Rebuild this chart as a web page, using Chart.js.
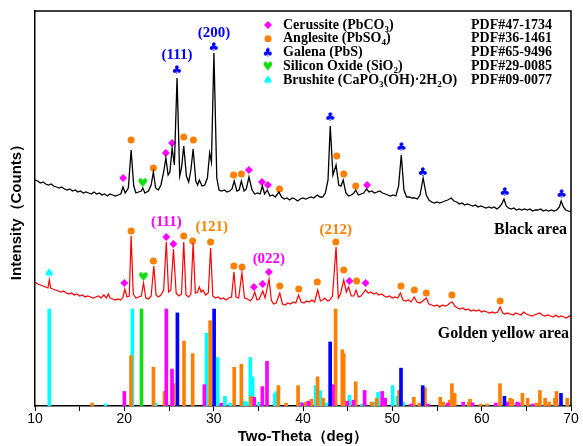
<!DOCTYPE html>
<html>
<head>
<meta charset="utf-8">
<script src="https://cdn.jsdelivr.net/npm/chart.js@4.4.1/dist/chart.umd.min.js"></script>
<style>
  html, body { margin: 0; padding: 0; background: #fff; }
  #wrap { width: 583px; height: 446px; position: relative; }
</style>
</head>
<body>
<div id="wrap"><canvas id="xrd"></canvas></div>
<script>
// measured patterns (2-theta in deg, counts in a.u. with the traces already offset)
const blackTheta = [10.0,10.3,10.6,10.9,11.2,11.5,11.8,12.1,12.4,12.7,13.0,13.3,13.6,13.9,14.2,14.5,14.8,15.1,15.4,15.7,16.0,16.3,16.6,16.9,17.2,17.5,17.8,18.1,18.4,18.7,19.0,19.3,19.6,19.85,20.1,20.45,20.76,21.05,21.3,21.6,21.9,22.07,22.3,22.7,23.0,23.25,23.5,23.8,24.1,24.4,24.65,24.9,25.1,25.35,25.6,25.9,26.2,26.4,26.65,26.95,27.2,27.45,27.7,28.0,28.2,28.4,28.7,29.0,29.3,29.55,29.75,30.03,30.35,30.6,30.9,31.2,31.5,31.8,32.05,32.3,32.6,32.85,33.1,33.4,33.65,33.95,34.3,34.6,34.9,35.2,35.45,35.7,36.0,36.3,36.6,36.9,37.3,37.6,37.9,38.2,38.5,38.8,39.1,39.4,39.7,40.0,40.3,40.6,40.9,41.2,41.6,41.9,42.2,42.5,42.8,43.05,43.35,43.7,44.0,44.25,44.5,44.8,45.1,45.4,45.7,45.9,46.2,46.5,46.8,47.1,47.4,47.7,48.0,48.3,48.6,48.9,49.2,49.5,49.8,50.1,50.4,50.7,51.0,51.3,51.6,51.9,52.2,52.5,52.8,53.1,53.45,53.8,54.1,54.4,54.7,55.0,55.3,55.6,55.9,56.2,56.6,56.9,57.2,57.5,57.8,58.1,58.4,58.7,59.0,59.3,59.6,59.9,60.2,60.5,60.8,61.1,61.4,61.7,62.0,62.25,62.5,62.75,63.0,63.3,63.6,63.9,64.2,64.5,64.8,65.1,65.4,65.7,66.0,66.3,66.6,66.9,67.2,67.5,67.8,68.1,68.4,68.7,68.9,69.15,69.4,69.7,70.0];
const blackCounts = [226,225,223,224,222,221,222,220,219,218,219,217,216,217,215,216,214,215,213,214,213,212,214,212,213,211,212,210,212,211,210,211,212,219,213,218,256,220,213,214,215,218,213,215,221,234,218,216,221,234,248,231,234,258,241,328,230,238,260,230,224,236,257,225,221,226,220,221,228,253,244,353,228,216,215,216,214,215,217,225,215,216,225,215,217,229,216,212,213,212,220,212,216,210,211,209,214,209,207,208,206,208,207,205,207,208,207,208,209,208,211,209,209,213,226,280,231,241,221,220,226,213,210,211,213,216,211,212,213,217,214,215,213,214,215,213,212,211,210,211,210,220,251,216,209,209,208,208,207,211,228,211,206,204,203,204,203,204,205,206,208,205,204,202,203,201,202,201,200,201,199,200,199,198,199,198,199,197,199,202,207,200,198,197,198,196,197,196,197,196,197,195,196,196,197,195,196,195,196,195,196,199,205,199,196,195,194];

const redTheta = [10.0,10.3,10.6,10.9,11.2,11.45,11.6,11.75,12.0,12.3,12.6,12.9,13.2,13.5,13.8,14.1,14.4,14.7,15.0,15.3,15.6,15.9,16.2,16.5,16.8,17.1,17.4,17.7,18.0,18.2,18.4,18.7,19.0,19.3,19.6,19.85,20.05,20.3,20.55,20.76,21.0,21.3,21.6,21.9,22.15,22.4,22.7,23.0,23.3,23.55,23.8,24.1,24.4,24.7,24.95,25.2,25.5,25.8,26.1,26.4,26.65,26.9,27.2,27.45,27.7,27.95,28.2,28.4,28.6,28.8,29.1,29.4,29.66,29.9,30.2,30.5,30.8,31.1,31.4,31.7,32.0,32.27,32.5,32.8,33.16,33.45,33.8,34.1,34.35,34.6,34.85,35.1,35.5,35.75,36.2,36.45,36.7,37.0,37.4,37.7,38.0,38.3,38.6,38.9,39.2,39.5,39.8,40.1,40.4,40.7,41.0,41.3,41.65,41.95,42.2,42.45,42.75,43.0,43.3,43.7,43.95,44.2,44.56,44.85,45.1,45.4,45.7,45.94,46.2,46.5,47.0,47.3,47.6,47.9,48.2,48.5,48.8,49.1,49.4,49.7,50.0,50.3,50.6,50.9,51.2,51.5,51.8,52.1,52.45,52.75,53.1,53.4,53.8,54.1,54.4,54.7,55.0,55.3,55.6,55.9,56.2,56.45,56.7,57.0,57.3,57.6,57.9,58.2,58.5,58.8,59.1,59.4,59.7,60.0,60.3,60.6,60.9,61.2,61.5,61.8,62.07,62.35,62.6,62.9,63.2,63.5,63.8,64.1,64.4,64.7,65.0,65.3,65.6,65.9,66.2,66.5,66.8,67.1,67.4,67.7,68.0,68.3,68.6,68.9,69.2,69.5,69.8,70.0];
const redCounts = [124,122,121,120,119,118,126,118,117,116,115,114,115,113,112,113,111,112,110,111,109,110,109,108,109,110,108,111,108,112,108,107,106,107,106,109,117,109,110,170,112,108,109,110,123,108,107,110,140,111,109,111,116,164,114,116,157,113,110,112,164,111,109,112,163,113,114,119,114,116,111,113,158,110,108,109,107,108,106,108,109,134,109,108,133,108,107,105,108,114,106,107,115,108,127,106,102,103,113,102,101,103,102,104,103,111,104,103,105,104,106,104,116,105,106,108,105,106,110,159,108,112,126,114,119,110,110,116,109,110,116,113,114,112,113,111,112,110,109,110,108,109,108,113,106,105,106,104,109,104,103,105,108,102,101,100,101,99,101,100,101,103,104,100,98,97,98,96,97,95,96,95,96,94,95,94,93,94,93,94,99,93,92,93,92,91,93,92,91,94,92,91,90,91,92,93,91,90,91,90,89,91,89,90,89,88,90,89];

// phase markers above the peaks [2-theta, level]
const cerussiteMarks = [[19.87,228],[24.64,253],[25.34,263],[33.94,236],[35.4,224],[36.07,221],[47.17,221],
  [20.0,123],[24.7,169],[25.5,162],[34.5,119],[35.47,122],[36.18,134],[45.2,125],[47.0,123]];
const anglesiteMarks = [[20.76,266],[23.26,238],[26.65,269],[27.73,266],[32.23,231],[33.1,232],[37.37,217],[43.78,250],[44.56,232],[45.9,220],
  [20.76,175],[23.26,145],[26.65,170],[27.65,165],[29.66,164],[32.27,140],[33.18,139],[37.4,120],[39.53,117],[41.6,124],[43.67,164],[44.56,136],[46.0,125],[50.97,120],[52.46,116],[53.8,113],[56.67,111],[62.07,105]];
const galenaMarks = [[25.9,336],[30.03,359],[43.07,289],[51.04,259],[53.43,234],[62.6,214],[68.96,212]];
const silicaMarks = [[22.07,223],[22.15,129]];
const brushiteMarks = [[11.6,133]];

// standard cards: [2-theta, relative intensity %]
const brushiteRef = [[11.6,100],[17.9,2],[20.9,100],[23.5,3],[29.2,75],[30.45,50],[31.26,10],[31.85,3],[33.46,5],[33.7,4],[34.1,50],[34.36,30],[35.06,4],[36.85,13],[37.04,15],[39.75,4],[41.4,21],[41.92,16],[42.6,3],[45.2,11],[46.6,2],[47.95,4],[48.4,14],[50.03,21],[50.55,10],[51.2,4]];
const anglesiteRef = [[16.4,3],[20.75,52],[23.26,40],[24.5,15],[25.5,23],[26.68,67],[27.65,54],[29.6,88],[32.3,40],[33.1,43],[34.17,10],[37.25,21],[38.1,3],[39.45,21],[40.3,4],[40.95,7],[41.63,30],[42.25,8],[43.65,100],[44.4,58],[44.56,54],[45.9,25],[47.7,4],[48.25,8],[50.75,16],[52.4,9],[53.0,3],[53.65,19],[55.36,9],[55.7,4],[56.42,6],[56.67,23],[56.98,13],[58.55,4],[58.7,7],[59.87,2],[60.6,2],[62.05,23],[63.2,8],[63.42,7],[64.56,13],[65.15,8],[66.1,3],[66.52,16],[67.1,8],[67.55,4],[68.2,8],[68.38,15],[69.58,8]];
const cerussiteRef = [[20.0,15],[24.7,100],[25.34,38],[28.96,22],[30.85,3],[34.55,9],[35.45,20],[35.97,46],[39.9,3],[40.62,5],[43.35,22],[44.95,5],[45.64,6],[46.9,16],[48.86,15],[49.2,8],[52.1,2],[54.0,2],[56.2,3],[57.93,4],[59.0,3],[61.58,3],[62.85,4],[63.97,4],[64.15,3],[65.7,2]];
const galenaRef = [[25.94,96],[30.05,100],[43.04,66],[50.97,39],[53.4,21],[62.55,10],[68.88,13]];
const silicaRef = [[21.92,100]];

const xTickLabels = [10, 20, 30, 40, 50, 60, 70];
const stickScale = 0.97;   // 100 % reference line -> counts

const peakLabels = [
  { text: '(111)', theta: 25.9, level: 351, phase: 'galena' },
  { text: '(200)', theta: 30.03, level: 373, phase: 'galena' },
  { text: '(111)', theta: 24.7, level: 184, phase: 'cerussite' },
  { text: '(121)', theta: 29.78, level: 179, phase: 'anglesite' },
  { text: '(022)', theta: 36.18, level: 147, phase: 'cerussite' },
  { text: '(212)', theta: 43.67, level: 176, phase: 'anglesite' },
];

const colors = {
  cerussite: '#ff00ff',
  anglesite: '#ff8000',
  galena: '#0000ff',
  silica: '#11dd11',
  brushite: '#00ffff',
};

function glyph(ch, color, size) {
  const c = document.createElement('canvas');
  c.width = size + 4;
  c.height = size + 4;
  const g = c.getContext('2d');
  g.fillStyle = color;
  g.font = `${size}px "DejaVu Sans"`;
  g.textAlign = 'center';
  g.textBaseline = 'middle';
  g.fillText(ch, c.width / 2, c.height / 2 + 1);
  return c;
}

const markStyle = {
  cerussite: { pointStyle: 'rectRot', radius: 4 },
  anglesite: { pointStyle: 'circle', radius: 3.5 },
  galena: { pointStyle: glyph('\u2663', colors.galena, 12), radius: 5 },
  silica: { pointStyle: glyph('\u2665', colors.silica, 12), radius: 5 },
  brushite: { pointStyle: glyph('\u2660', colors.brushite, 12), radius: 5 },
};

const legendRows = [
  { phase: 'cerussite', parts: ['Cerussite (PbCO', ['3'], ')'], pdf: 'PDF#47-1734' },
  { phase: 'anglesite', parts: ['Anglesite (PbSO', ['4'], ')'], pdf: 'PDF#36-1461' },
  { phase: 'galena', parts: ['Galena (PbS)'], pdf: 'PDF#65-9496' },
  { phase: 'silica', parts: ['Silicon Oxide (SiO', ['2'], ')'], pdf: 'PDF#29-0085' },
  { phase: 'brushite', parts: ['Brushite (CaPO', ['3'], '(OH)\u00b72H', ['2'], 'O)'], pdf: 'PDF#09-0077' },
];

function pts(list, scale) {
  return list.map(([t, v]) => ({ x: t, y: v * (scale || 1) }));
}

function drawMark(ctx, phase, x, y) {
  const st = markStyle[phase];
  ctx.fillStyle = colors[phase];
  if (st.pointStyle instanceof HTMLCanvasElement) {
    ctx.drawImage(st.pointStyle, x - st.pointStyle.width / 2, y - st.pointStyle.height / 2);
  } else if (st.pointStyle === 'rectRot') {
    ctx.beginPath();
    ctx.moveTo(x - st.radius, y);
    ctx.lineTo(x, y - st.radius);
    ctx.lineTo(x + st.radius, y);
    ctx.lineTo(x, y + st.radius);
    ctx.closePath();
    ctx.fill();
  } else {
    ctx.beginPath();
    ctx.arc(x, y, st.radius, 0, Math.PI * 2);
    ctx.fill();
  }
}

function drawRich(ctx, parts, x, y, size) {
  let cx = x;
  for (const p of parts) {
    if (Array.isArray(p)) {
      ctx.font = `bold ${Math.round(size * 0.65)}px "Liberation Serif"`;
      ctx.fillText(p[0], cx, y + size * 0.3);
      cx += ctx.measureText(p[0]).width;
    } else {
      ctx.font = `bold ${size}px "Liberation Serif"`;
      ctx.fillText(p, cx, y);
      cx += ctx.measureText(p).width;
    }
  }
}

const decorations = {
  id: 'decorations',
  afterDatasetsDraw(chart) {
    const { ctx, chartArea: a, scales } = chart;
    ctx.save();

    // closing frame on top and right
    ctx.strokeStyle = '#000';
    ctx.lineWidth = 1.5;
    ctx.beginPath();
    ctx.moveTo(a.left, a.top);
    ctx.lineTo(a.right, a.top);
    ctx.lineTo(a.right, a.bottom);
    ctx.stroke();

    // peak indices
    ctx.textAlign = 'center';
    ctx.textBaseline = 'middle';
    ctx.font = 'bold 15px "Liberation Serif"';
    for (const l of peakLabels) {
      ctx.fillStyle = colors[l.phase];
      ctx.fillText(l.text, scales.x.getPixelForValue(l.theta), scales.y.getPixelForValue(l.level));
    }

    // sample names
    ctx.fillStyle = '#000';
    ctx.textAlign = 'right';
    ctx.font = 'bold 16px "Liberation Serif"';
    ctx.fillText('Black area', a.right - 4, 230);
    ctx.fillText('Golden yellow area', a.right - 2, 334);

    // phase key
    ctx.textAlign = 'left';
    legendRows.forEach((row, i) => {
      const y = a.top + 14 + i * 13.8;
      drawMark(ctx, row.phase, a.left + 233, y);
      ctx.fillStyle = '#000';
      drawRich(ctx, row.parts, a.left + 248, y, 14);
      ctx.font = 'bold 14px "Liberation Serif"';
      ctx.fillText(row.pdf, a.left + 436, y);
    });
    ctx.restore();
  },
};

function markSet(list, phase) {
  return {
    type: 'scatter',
    data: pts(list),
    backgroundColor: colors[phase],
    borderWidth: 0,
    pointStyle: markStyle[phase].pointStyle,
    pointRadius: markStyle[phase].radius,
    order: 1,
  };
}

function stickSet(list, phase, order) {
  return {
    type: 'bar',
    data: pts(list, stickScale),
    backgroundColor: colors[phase],
    borderWidth: 0,
    barThickness: 3,
    grouped: false,
    order: order,
  };
}

new Chart(document.getElementById('xrd'), {
  type: 'line',
  data: {
    datasets: [
      {
        data: blackTheta.map((t, i) => ({ x: t, y: blackCounts[i] })),
        borderColor: '#000',
        borderWidth: 1.3,
        pointRadius: 0,
        order: 0,
      },
      {
        data: redTheta.map((t, i) => ({ x: t, y: redCounts[i] })),
        borderColor: '#ff0000',
        borderWidth: 1.2,
        pointRadius: 0,
        order: 0,
      },
      markSet(cerussiteMarks, 'cerussite'),
      markSet(anglesiteMarks, 'anglesite'),
      markSet(galenaMarks, 'galena'),
      markSet(silicaMarks, 'silica'),
      markSet(brushiteMarks, 'brushite'),
      stickSet(galenaRef, 'galena', 2),
      stickSet(cerussiteRef, 'cerussite', 3),
      stickSet(silicaRef, 'silica', 4),
      stickSet(anglesiteRef, 'anglesite', 5),
      stickSet(brushiteRef, 'brushite', 6),
    ],
  },
  options: {
    responsive: true,
    maintainAspectRatio: false,
    animation: false,
    layout: { padding: { top: 11, right: 12, left: 0, bottom: 0 } },
    plugins: {
      legend: { display: false },
      tooltip: { enabled: false },
    },
    scales: {
      x: {
        type: 'linear',
        min: 10,
        max: 70,
        offset: false,
        afterFit(scale) { scale.height = 40; },
        ticks: {
          stepSize: 5,
          autoSkip: false,
          maxRotation: 0,
          padding: 0,
          color: '#000',
          font: { family: '"Liberation Sans"', size: 14 },
          callback: (v) => (xTickLabels.includes(v) ? String(v) : ''),
        },
        grid: { display: true, offset: false, drawOnChartArea: false, drawTicks: true, tickLength: 5, color: '#000', lineWidth: 1 },
        border: { display: true, color: '#000', width: 1.5 },
        title: {
          display: true,
          text: 'Two-Theta\uff08deg\uff09',
          color: '#000',
          font: { family: '"Liberation Sans"', size: 15, weight: 'bold', lineHeight: 1.2 },
          padding: { top: 0, bottom: 0 },
        },
      },
      y: {
        min: 0,
        max: 395,
        afterFit(scale) { scale.width = 35; },
        ticks: { display: false },
        grid: { display: false },
        border: { display: true, color: '#000', width: 1.5 },
        title: {
          display: true,
          text: 'Intensity\uff08Counts\uff09',
          color: '#000',
          font: { family: '"Liberation Sans"', size: 15, weight: 'bold', lineHeight: 1.2 },
          padding: { top: 8, bottom: 0 },
        },
      },
    },
  },
  plugins: [decorations],
});
</script>
</body>
</html>
